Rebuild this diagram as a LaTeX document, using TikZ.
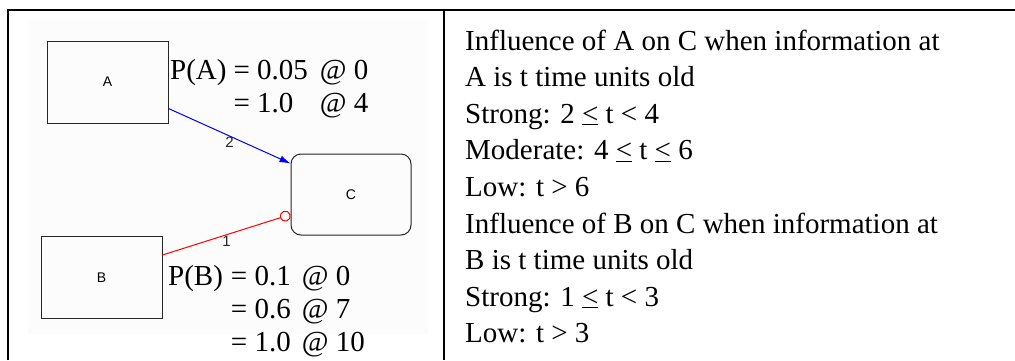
\documentclass[tikz,border=0pt]{standalone}
\usepackage{fontspec}
\setmainfont{Liberation Serif}
\newfontfamily\boxfont{Liberation Sans}
\usepackage{tikz}
\definecolor{panelgray}{rgb}{0.99, 0.99, 0.99}
\usetikzlibrary{arrows.meta}

\tikzset{
	var/.style = {draw = black!85, line width = 1pt, minimum width = 121pt, minimum height = 82pt, font = \boxfont\fontsize{14}{16}\selectfont},
	prob/.style = {anchor = base west, inner sep = 0pt, font = \fontsize{29}{33}\selectfont},
	wt/.style = {text = black!85, font = \boxfont\fontsize{15}{17}\selectfont, inner sep = 1pt}
}

\begin{document}
\begin{tikzpicture}[x=1pt, y=-1pt]
	\useasboundingbox (0,0) rectangle (1015,360);
	\fill[panelgray] (28,20) rectangle (428,334);
	
	% table rules
	\draw[line width = 1.5pt] (8,360) -- (8,10) -- (1015,10);
	\draw[line width = 1.5pt] (444,10) -- (444,360);
	
	\node[var] (A) at (107.5,82) {A};
	\node[var] (B) at (101.5,277.5) {B};
	\node[var, rounded corners = 10pt, minimum width = 120pt, minimum height = 81pt] (C) at (351,194.5) {C};
	
	\draw[blue, line width = 1pt, -{Latex[length = 11pt, width = 7pt]}] ([yshift = 15pt]A.south east) -- node[wt, below] {2} ([yshift = -10pt]C.north west);
	\draw[red, line width = 1pt, -{Circle[open, length = 11pt]}] ([yshift = -19pt]B.north east) -- node[wt, below] {1} ([yshift = 21pt]C.south west);
	
	\node[prob] (pa) at (170,79) {\begin{tabular}[t]{@{}l@{\hspace{7pt}}l@{\hspace{12pt}}l@{}}P(A) & = 0.05 & @ 0\\ & = 1.0 & @ 4\end{tabular}};
	\node[prob] (pb) at (168,285) {\begin{tabular}[t]{@{}l@{\hspace{8pt}}l@{\hspace{11pt}}l@{}}P(B) & = 0.1 & @ 0\\ & = 0.6 & @ 7\\ & = 1.0 & @ 10\end{tabular}};
	
	\node[prob, font = \fontsize{29}{36.6}\selectfont] (rules) at (465,50) {\begin{tabular}[t]{@{}l@{}}
		Influence of A on C when information at\\
		A is t time units old\\
		Strong: 2 \underline{<} t < 4\\
		Moderate: 4 \underline{<} t \underline{<} 6\\
		Low: t > 6\\
		Influence of B on C when information at\\
		B is t time units old\\
		Strong: 1 \underline{<} t < 3\\
		Low: t > 3
	\end{tabular}};
\end{tikzpicture}
\end{document}
